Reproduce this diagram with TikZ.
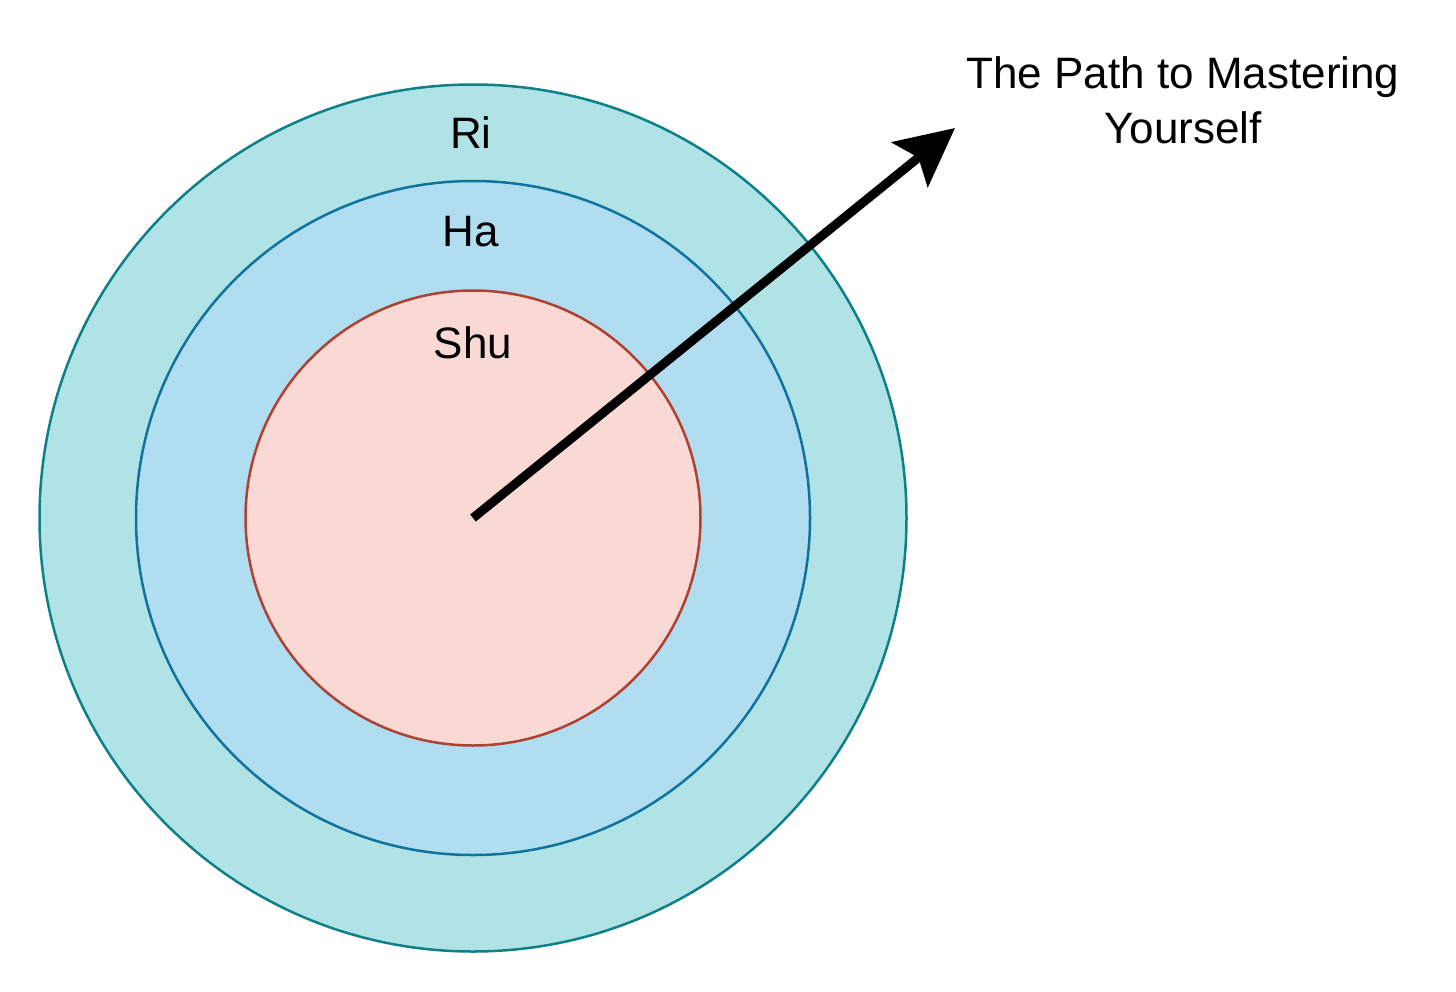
\documentclass[tikz,border=0pt]{standalone}
\usepackage{fontspec}
\setmainfont{Liberation Sans}
\usetikzlibrary{arrows.meta}
\definecolor{riFill}{HTML}{B0E3E6}
\definecolor{riLine}{HTML}{0E8088}
\definecolor{haFill}{HTML}{B1DDF0}
\definecolor{haLine}{HTML}{10739E}
\definecolor{shuFill}{HTML}{FAD9D5}
\definecolor{shuLine}{HTML}{AE4132}
\begin{document}
\begin{tikzpicture}[x=0.5pt,y=-0.5pt,
	ring/.style={circle,draw,line width=1.25pt,inner sep=0pt},
	lbl/.style={font=\fontsize{22}{27.5}\selectfont,align=center}]
	\useasboundingbox (0,0) rectangle (1456,991);
	\node[ring,draw=riLine,fill=riFill,minimum size=433.5pt](ri) at (473,518){};
	\node[ring,draw=haLine,fill=haFill,minimum size=337pt](ha) at (473,518){};
	\node[ring,draw=shuLine,fill=shuFill,minimum size=227.5pt](shu) at (473,518){};
	\node[lbl](riText) at (471,133){Ri};
	\node[lbl](haText) at (471,232){Ha};
	\node[lbl](shuText) at (473,343){Shu};
	\node[lbl](path) at (1183,100){The Path to Mastering\\Yourself};
	\coordinate (tip) at (955,128);
	\draw[line width=4.5pt,-{Stealth[length=29pt,width=28.5pt,inset=5.5pt]}] (shu.center) -- (tip);
\end{tikzpicture}
\end{document}
